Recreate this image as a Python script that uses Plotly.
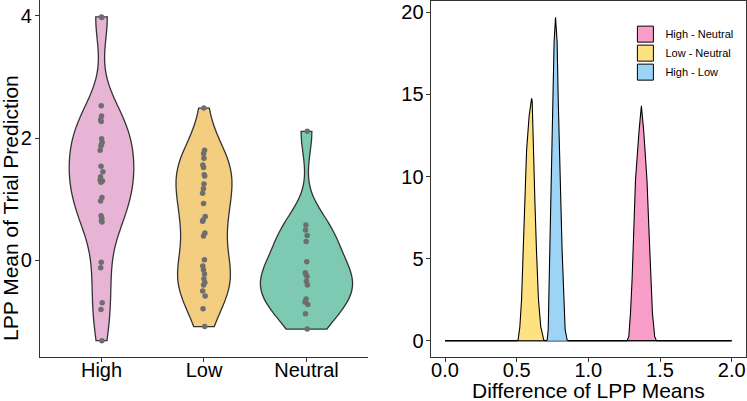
import numpy as np
import plotly.graph_objects as go

# ---------------- data ----------------
groups = ["High", "Low", "Neutral"]
high_vals = [3.98, 3.97, 2.53, 2.36, 2.30, 2.27, 1.99, 1.93, 1.90, 1.87, 1.80, 1.54,
             1.45, 1.37, 1.32, 1.30, 1.28, 1.03, 0.97, 0.73, 0.69, 0.65, 0.63,
             -0.03, -0.12, -0.69, -0.80, -1.31]
low_vals = [2.49, 1.80, 1.75, 1.67, 1.56, 1.52, 1.40, 1.38, 1.25, 1.17, 1.10, 0.93,
            0.72, 0.66, 0.64, 0.45, 0.40, 0.01, -0.09, -0.15, -0.22, -0.30, -0.36,
            -0.40, -0.50, -0.58, -0.79, -1.08]
neutral_vals = [2.11, 0.58, 0.50, 0.41, 0.31, -0.02, -0.20, -0.23, -0.26, -0.34,
                -0.40, -0.63, -0.68, -0.72, -0.87, -1.12]

diff_labels = ["High - Neutral", "Low - Neutral", "High - Low"]
hn_x = [0.0, 1.270, 1.282, 1.294, 1.305, 1.317, 1.329, 1.354, 1.370, 1.386, 1.409,
        1.423, 1.435, 1.447, 1.463, 1.475, 2.0]
hn_y = [0, 0, 0.25, 1.7, 3.7, 6.7, 9.8, 12.8, 14.3, 12.8, 9.8, 6.7, 3.7, 1.7, 0.25, 0, 0]
ln_x = [0.0, 0.500, 0.510, 0.522, 0.534, 0.546, 0.557, 0.569, 0.587, 0.596, 0.604,
        0.608, 0.615, 0.627, 0.638, 0.652, 0.668, 0.689, 0.700, 2.0]
ln_y = [0, 0, 0.05, 0.85, 2.5, 5.5, 8.5, 11.6, 13.7, 14.3, 14.76, 14.6, 11.6, 8.5,
        5.5, 2.5, 0.85, 0.05, 0, 0]
hl_x = [0.0, 0.705, 0.713, 0.720, 0.724, 0.731, 0.740, 0.747, 0.754, 0.761, 0.771,
        0.782, 0.790, 0.801, 0.808, 0.817, 0.829, 0.838, 0.852, 0.860, 2.0]
hl_y = [0, 0, 0.05, 0.7, 2.5, 5.5, 8.5, 11.6, 14.6, 18.2, 19.7, 18.2, 14.6, 11.6,
        8.5, 5.5, 2.5, 0.7, 0.05, 0, 0]

# ---------------- style ----------------
violin_colors = ["#E8B4D5", "#F3CD80", "#7EC9B1"]
violin_widths = [0.63, 0.545, 0.9]
density_colors = ["#F79DC8", "#FEE282", "#9DD3F5"]
FONT = "Liberation Sans, Arial, sans-serif"
AX = "#333333"


def nrd0(v):
    v = np.asarray(v, float)
    sd = v.std(ddof=1)
    iqr = np.subtract(*np.percentile(v, [75, 25]))
    return 0.9 * min(sd, iqr / 1.34) * len(v) ** -0.2


fig = go.Figure()

for g, vals, col, w in zip(groups, [high_vals, low_vals, neutral_vals],
                           violin_colors, violin_widths):
    fig.add_trace(go.Violin(
        x=[g] * len(vals), y=vals, name=g,
        fillcolor=col, line=dict(color=AX, width=1.3), opacity=1,
        spanmode="hard", bandwidth=nrd0(vals), scalemode="width", width=w,
        points="all", pointpos=0, jitter=0.035 / w,
        marker=dict(color="#6E6E6E", size=5.5, line=dict(width=0)),
        showlegend=False, xaxis="x", yaxis="y", hoveron="points",
    ))

for lab, xs, ys, col in zip(diff_labels, [hn_x, ln_x, hl_x], [hn_y, ln_y, hl_y],
                            density_colors):
    fig.add_trace(go.Scatter(
        x=xs, y=ys, mode="lines", fill="tozeroy", fillcolor=col,
        line=dict(color="black", width=1.1), showlegend=False,
        xaxis="x2", yaxis="y2",
    ))

for lab, col in zip(diff_labels, density_colors):
    fig.add_trace(go.Scatter(
        x=[None], y=[None], mode="markers", name=lab,
        marker=dict(symbol="square", size=16, color=col,
                    line=dict(color="black", width=1)),
        xaxis="x2", yaxis="y2", showlegend=True,
    ))

tick_font = dict(family=FONT, size=20, color="black")
title_font = dict(family=FONT, size=21, color="black")

common = dict(showline=True, linecolor=AX, linewidth=1.2, ticks="outside",
              ticklen=4, tickcolor=AX, showgrid=False, zeroline=False,
              tickfont=tick_font, automargin=False)

fig.update_layout(
    width=747, height=401,
    margin=dict(l=40, r=0, t=0, b=44, autoexpand=False),
    paper_bgcolor="white", plot_bgcolor="white",
    font=dict(family=FONT, color="black"),
    violinmode="overlay",
    xaxis=dict(domain=[0, 0.4639], type="category", range=[-0.6, 2.6],
               ticklabelstandoff=-9, **common),
    yaxis=dict(domain=[0, 1], range=[-1.577, 4.256], tickvals=[0, 2, 4],
               ticklabelstandoff=-1, **common),
    xaxis2=dict(domain=[0.5526, 0.9986], range=[-0.1, 2.1], anchor="y2",
                tickvals=[0, 0.5, 1, 1.5, 2], tickformat=".1f", mirror=True,
                ticklabelstandoff=-9, **common),
    yaxis2=dict(domain=[0, 0.997], range=[-0.985, 20.68], anchor="x2",
                tickvals=[0, 5, 10, 15, 20], mirror=True, ticklabelstandoff=-2,
                **common),
    legend=dict(x=0.828, y=0.945, xanchor="left", yanchor="top",
                font=dict(family=FONT, size=11, color="black"),
                bgcolor="rgba(0,0,0,0)", tracegroupgap=0, itemsizing="trace"),
    annotations=[
        dict(text="LPP Mean of Trial Prediction", xref="paper", yref="paper",
             x=(11 - 40) / 707, y=(357 - 208) / 357, xanchor="center",
             yanchor="middle", textangle=-90, showarrow=False, font=title_font),
        dict(text="Difference of LPP Means", xref="paper", yref="paper",
             x=(588.4 - 40) / 707, y=(357 - 390) / 357, xanchor="center",
             yanchor="middle", showarrow=False, font=title_font),
    ],
)

fig.write_html("out.html",
               config={"displayModeBar": False},
               post_script="document.body.style.margin='0';"
                           "document.body.style.overflow='hidden';")
